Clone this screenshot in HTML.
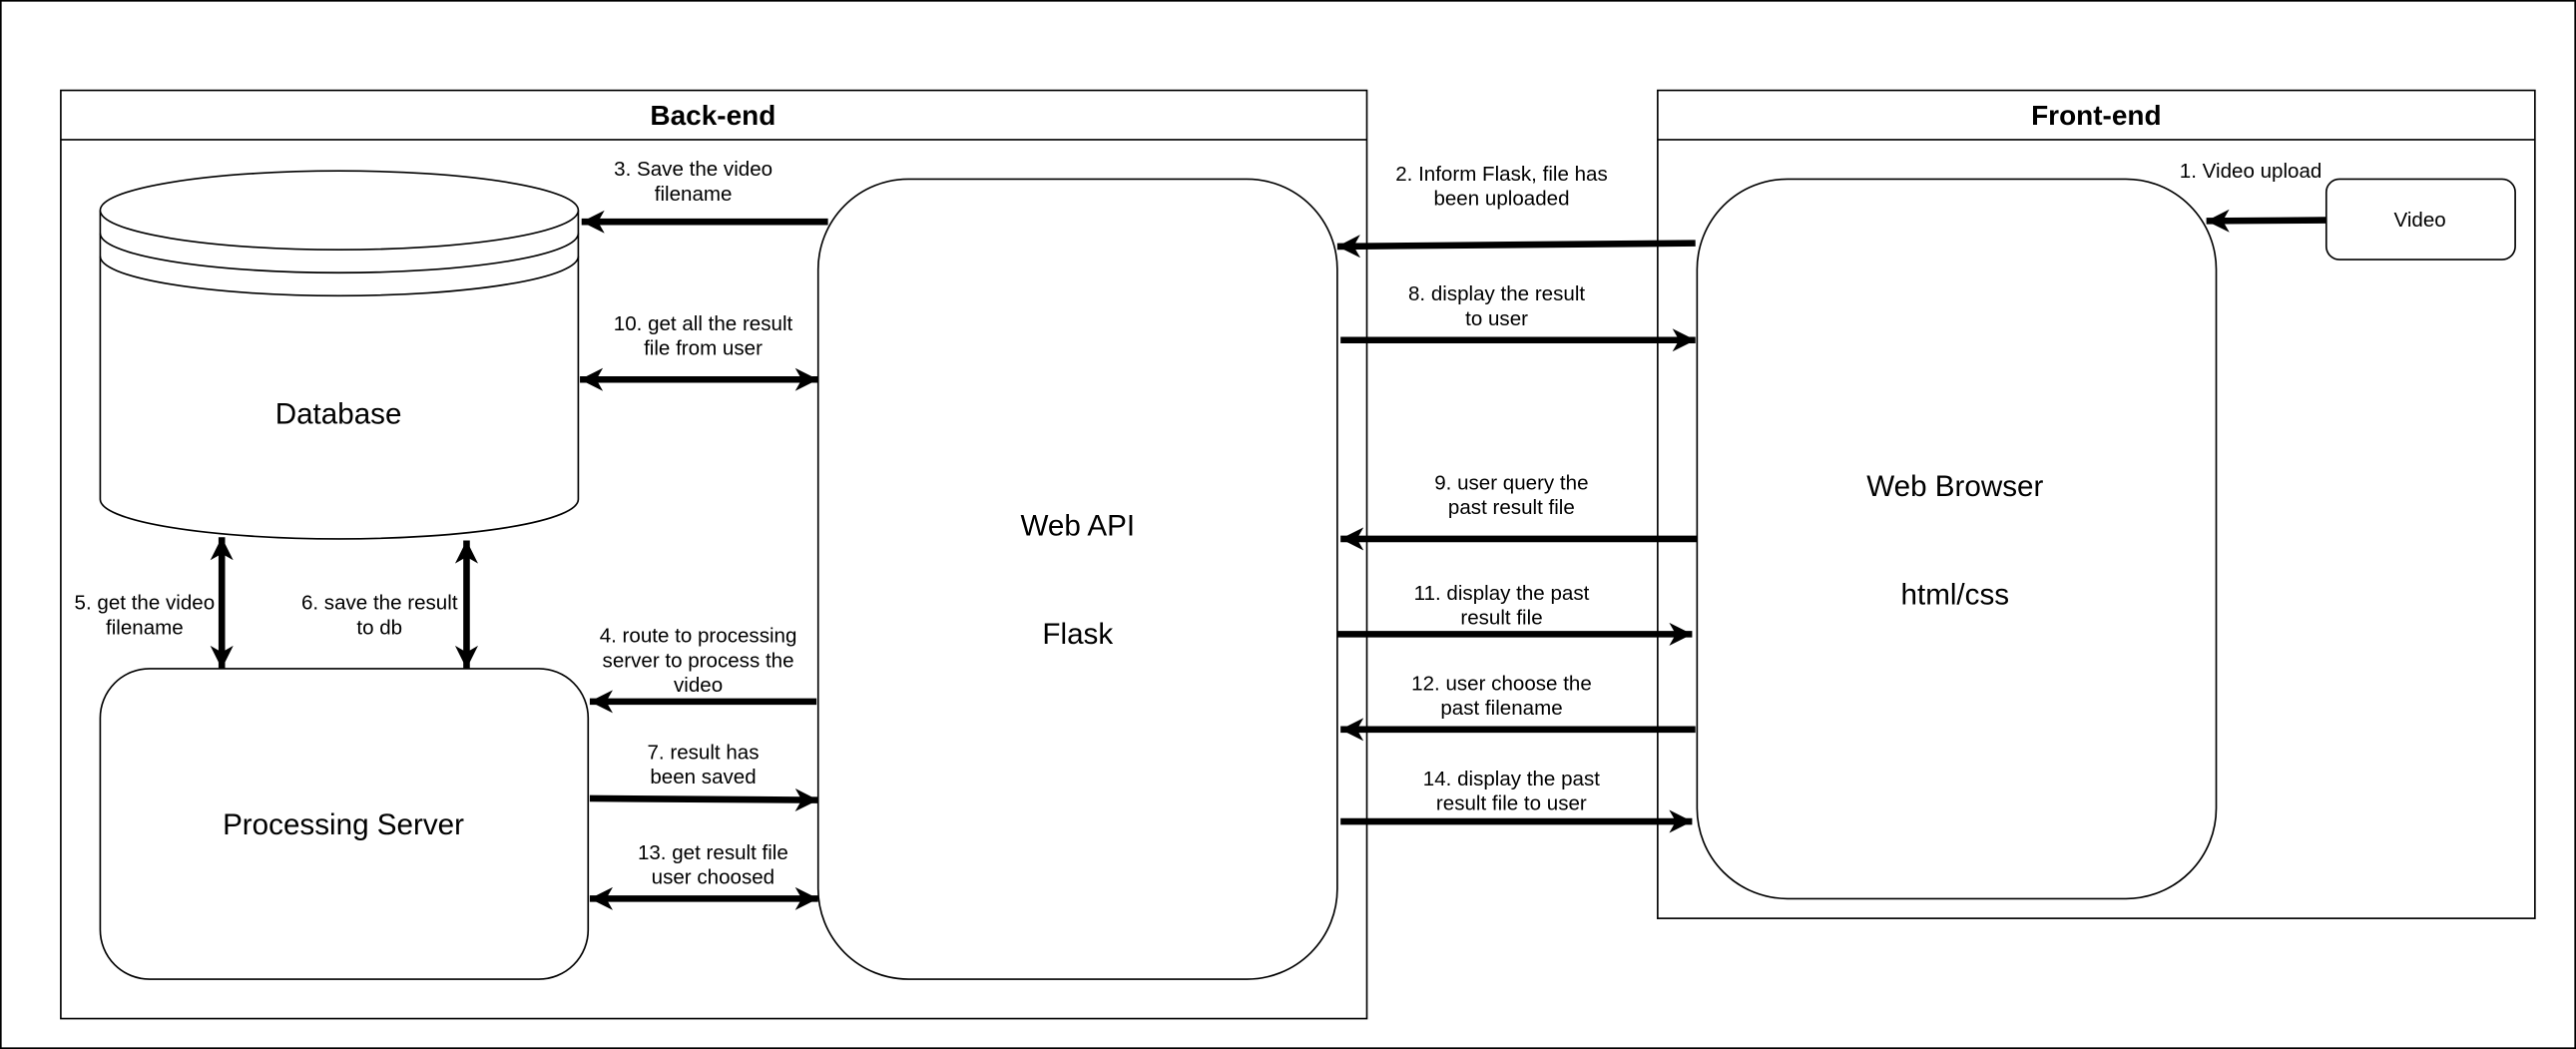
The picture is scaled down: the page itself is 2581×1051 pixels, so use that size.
<!DOCTYPE html>
<html><head><meta charset="utf-8"><style>html,body{margin:0;padding:0;background:#fff}svg{display:block}text{font-family:"Liberation Sans",sans-serif;fill:#000}</style></head>
<body>
<svg width="2581" height="1051" viewBox="0 0 1568 638.5" preserveAspectRatio="none" xmlns="http://www.w3.org/2000/svg">
<defs>
<marker id="a" markerUnits="userSpaceOnUse" markerWidth="16" markerHeight="14" refX="14" refY="7" orient="auto-start-reverse"><path d="M0,0 L14,7 L0,14 L4,7 Z" fill="#000"/></marker>
</defs>
<rect x="0.5" y="0.5" width="1567" height="637.5" fill="#fff" stroke="#000" stroke-width="1"/>
<g fill="none" stroke="#000" stroke-width="1">
<rect x="37" y="55" width="795" height="565"/><line x1="37" y1="85" x2="832" y2="85"/>
<rect x="1009" y="55" width="534" height="504"/><line x1="1009" y1="85" x2="1543" y2="85"/>
<path d="M61,128 L61,304 A145.5,24 0 0 0 352,304 L352,128" fill="#fff"/>
<ellipse cx="206.5" cy="128" rx="145.5" ry="24" fill="#fff"/>
<path d="M61,142 A145.5,24 0 0 0 352,142"/>
<path d="M61,156 A145.5,24 0 0 0 352,156"/>
<rect x="61" y="407" width="297" height="189" rx="30"/>
<rect x="498" y="109" width="316" height="487" rx="55"/>
<rect x="1033" y="109" width="316" height="438" rx="55"/>
<rect x="1416" y="109" width="115" height="49" rx="8"/>
</g>
<g stroke="#000" stroke-width="4" fill="none">
<line x1="1416" y1="134" x2="1343" y2="134.5" marker-end="url(#a)"/>
<line x1="1032" y1="148" x2="814" y2="150" marker-end="url(#a)"/>
<line x1="504" y1="135" x2="354" y2="135" marker-end="url(#a)"/>
<line x1="353" y1="231" x2="498" y2="231" marker-start="url(#a)" marker-end="url(#a)"/>
<line x1="816" y1="207" x2="1032" y2="207" marker-end="url(#a)"/>
<line x1="1033" y1="328" x2="816" y2="328" marker-end="url(#a)"/>
<line x1="814" y1="386" x2="1030" y2="386" marker-end="url(#a)"/>
<line x1="1032" y1="444" x2="816" y2="444" marker-end="url(#a)"/>
<line x1="816" y1="500" x2="1030" y2="500" marker-end="url(#a)"/>
<line x1="497" y1="427" x2="359" y2="427" marker-end="url(#a)"/>
<line x1="359" y1="486" x2="498" y2="487" marker-end="url(#a)"/>
<line x1="359" y1="547" x2="498" y2="547" marker-start="url(#a)" marker-end="url(#a)"/>
<line x1="135" y1="327" x2="135" y2="407" marker-start="url(#a)" marker-end="url(#a)"/>
<line x1="284" y1="329" x2="284" y2="407" marker-start="url(#a)" marker-end="url(#a)"/>
</g>
<g text-anchor="middle" font-weight="bold" font-size="17">
<text x="434" y="76">Back-end</text><text x="1276" y="76">Front-end</text>
</g>
<g text-anchor="middle" font-size="18">
<text x="206" y="258">Database</text>
<text x="209" y="508">Processing Server</text>
<text x="656" y="326">Web API</text><text x="656" y="392">Flask</text>
<text x="1190" y="302">Web Browser</text><text x="1190" y="368">html/css</text>
</g>
<g text-anchor="middle" font-size="12.5">
<text x="1473" y="138">Video</text>
<text x="1370" y="108">1. Video upload</text>
<text x="422" y="107">3. Save the video</text><text x="422" y="122">filename</text>
<text x="428" y="201">10. get all the result</text><text x="428" y="216">file from user</text>
<text x="88" y="371">5. get the video</text><text x="88" y="386">filename</text>
<text x="231" y="371">6. save the result</text><text x="231" y="386">to db</text>
<text x="425" y="391">4. route to processing</text><text x="425" y="406">server to process the</text><text x="425" y="421">video</text>
<text x="428" y="462">7.  result has</text><text x="428" y="477">been saved</text>
<text x="434" y="523">13. get result file</text><text x="434" y="538">user choosed</text>
<text x="914" y="110">2. Inform Flask, file has</text><text x="914" y="125">been uploaded</text>
<text x="911" y="183">8. display the result</text><text x="911" y="198">to user</text>
<text x="920" y="298">9. user query the</text><text x="920" y="313">past result file</text>
<text x="914" y="365">11. display the past</text><text x="914" y="380">result file</text>
<text x="914" y="420">12. user choose the</text><text x="914" y="435">past filename</text>
<text x="920" y="478">14. display the past</text><text x="920" y="493">result file to user</text>
</g>
</svg>
</body></html>
